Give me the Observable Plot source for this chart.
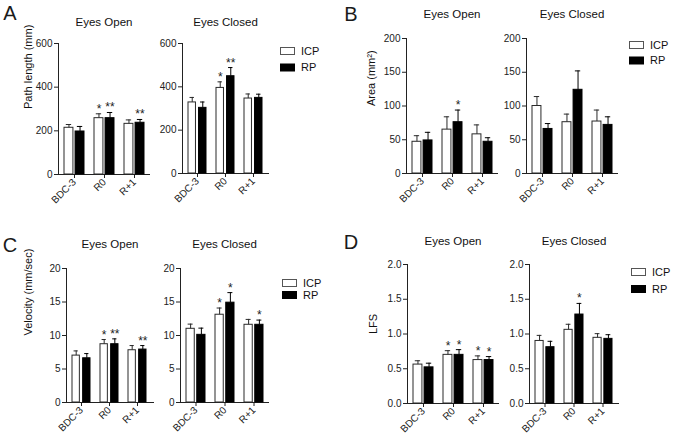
<!DOCTYPE html>
<html>
<head>
<meta charset="utf-8">
<script src="https://cdn.jsdelivr.net/npm/d3@7"></script>
<script src="https://cdn.jsdelivr.net/npm/@observablehq/plot@0.6"></script>
<style>
  html, body { margin: 0; padding: 0; background: #fff; }
  #chart { position: relative; width: 678px; height: 440px; overflow: hidden; font-family: "Liberation Sans", Arial, sans-serif; color: #1a1a1a; }
  .abs { position: absolute; }
  .letter { font-size: 20px; line-height: 1; transform: translate(-50%, -50%); }
</style>
</head>
<body>
<div id="chart"></div>
<script>
// ---------- data ----------
const groups = ["BDC-3", "R0", "R+1"];
const seriesNames = ["ICP", "RP"];

// A: Path length (mm)
const pathOpenICP = [214, 258, 232];
const pathOpenICPSem = [15, 20, 18];
const pathOpenRP = [197, 258, 237];
const pathOpenRPSem = [23, 26, 15];
const pathOpenICPStars = ["", "*", ""];
const pathOpenRPStars = ["", "**", "**"];
const pathClosedICP = [328, 395, 346];
const pathClosedICPSem = [23, 28, 21];
const pathClosedRP = [303, 449, 349];
const pathClosedRPSem = [27, 40, 17];
const pathClosedICPStars = ["", "*", ""];
const pathClosedRPStars = ["", "**", ""];

// B: Area (mm²)
const areaOpenICP = [47, 65, 58];
const areaOpenICPSem = [9, 19, 14];
const areaOpenRP = [49, 76, 47];
const areaOpenRPSem = [12, 18, 6];
const areaOpenICPStars = ["", "", ""];
const areaOpenRPStars = ["", "*", ""];
const areaClosedICP = [100, 76, 77];
const areaClosedICPSem = [14, 12, 17];
const areaClosedRP = [66, 124, 72];
const areaClosedRPSem = [8, 28, 12];
const areaClosedICPStars = ["", "", ""];
const areaClosedRPStars = ["", "", ""];

// C: Velocity (mm/sec)
const velOpenICP = [7.0, 8.7, 7.8];
const velOpenICPSem = [0.7, 0.7, 0.7];
const velOpenRP = [6.6, 8.7, 7.9];
const velOpenRPSem = [0.7, 0.8, 0.6];
const velOpenICPStars = ["", "*", ""];
const velOpenRPStars = ["", "**", "**"];
const velClosedICP = [11.0, 13.1, 11.6];
const velClosedICPSem = [0.7, 1.0, 0.8];
const velClosedRP = [10.1, 14.9, 11.6];
const velClosedRPSem = [1.0, 1.5, 0.7];
const velClosedICPStars = ["", "*", ""];
const velClosedRPStars = ["", "*", "*"];

// D: LFS
const lfsOpenICP = [0.56, 0.70, 0.625];
const lfsOpenICPSem = [0.055, 0.06, 0.06];
const lfsOpenRP = [0.52, 0.70, 0.625];
const lfsOpenRPSem = [0.06, 0.075, 0.05];
const lfsOpenICPStars = ["", "*", "*"];
const lfsOpenRPStars = ["", "*", "*"];
const lfsClosedICP = [0.90, 1.06, 0.945];
const lfsClosedICPSem = [0.08, 0.08, 0.06];
const lfsClosedRP = [0.81, 1.28, 0.93];
const lfsClosedRPSem = [0.085, 0.16, 0.06];
const lfsClosedICPStars = ["", "", ""];
const lfsClosedRPStars = ["", "*", ""];

// axis ticks / labels
const pathTicks = [0, 200, 400, 600];
const areaTicks = [0, 50, 100, 150, 200];
const velTicks = [0, 5, 10, 15, 20];
const lfsTicks = [0, 0.5, 1.0, 1.5, 2.0];
const panelLetters = ["A", "B", "C", "D"];
const conditionTitles = ["Eyes Open", "Eyes Closed"];
const yLabels = ["Path length (mm)", "Area (mm²)", "Velocity (mm/sec)", "LFS"];

// ---------- layout ----------
const chart = document.getElementById("chart");

function rows(means, sems, stars) {
  return groups.map((g, i) => ({group: g, mean: means[i], hi: means[i] + sems[i], star: stars[i]}));
}

function panel(cfg) {
  const W = cfg.ar - cfg.ax;
  const H = cfg.yb - cfg.yt;
  const ML = 50, MR = 6, MT = 32, MB = 46;
  const pi = 0.35, po = 0.18;
  const step = W / (groups.length - pi + 2 * po);
  const bw = step * (1 - pi);
  const gap = 2.5;
  const barW = (bw - gap) / 2;
  const off = (barW + gap) / 2;
  const icp = rows(cfg.icp, cfg.icpSem, cfg.icpStars);
  const rp = rows(cfg.rp, cfg.rpSem, cfg.rpStars);
  const marks = [
    Plot.barY(icp, {x: "group", y: "mean", fill: "white", stroke: "#2a2a2a", strokeWidth: 1, insetRight: barW + gap}),
    Plot.barY(rp, {x: "group", y: "mean", fill: "black", stroke: "black", strokeWidth: 1, insetLeft: barW + gap}),
    Plot.ruleX(icp, {x: "group", y1: "mean", y2: "hi", dx: -off, stroke: "#2a2a2a"}),
    Plot.ruleX(rp, {x: "group", y1: "mean", y2: "hi", dx: off, stroke: "black"}),
    Plot.tickY(icp, {x: "group", y: "hi", stroke: "#2a2a2a", insetLeft: barW / 2 - 2.5, insetRight: bw - barW / 2 - 2.5}),
    Plot.tickY(rp, {x: "group", y: "hi", stroke: "black", insetLeft: bw - barW / 2 - 2.5, insetRight: barW / 2 - 2.5}),
    Plot.text(icp, {x: "group", y: "hi", text: "star", dx: -off, dy: -1, lineAnchor: "bottom", fontSize: 12}),
    Plot.text(rp, {x: "group", y: "hi", text: "star", dx: off, dy: -1, lineAnchor: "bottom", fontSize: 12}),
    Plot.text([cfg.title], {frameAnchor: "top", lineAnchor: "middle", dy: cfg.titleY - cfg.yt, fontSize: 11.5, fill: "#111"})
  ];
  if (cfg.ylabel) {
    marks.push(Plot.text([cfg.ylabel], {frameAnchor: "left", rotate: -90, dx: cfg.ylabelX - cfg.ax, fontSize: 11, fill: "#111"}));
  }
  const svg = Plot.plot({
    width: ML + W + MR,
    height: MT + H + MB,
    marginLeft: ML, marginRight: MR, marginTop: MT, marginBottom: MB,
    style: {background: "transparent", overflow: "visible", fontFamily: "Liberation Sans, Arial, sans-serif", fontSize: "10px", color: "#222"},
    x: {domain: groups, paddingInner: pi, paddingOuter: po, label: null, tickRotate: -45, tickSize: 4, tickPadding: 2, line: true},
    y: {domain: cfg.domain, ticks: cfg.ticks, tickFormat: cfg.fmt, label: null, tickSize: 4, tickPadding: 2, line: true},
    marks
  });
  svg.style.position = "absolute";
  svg.style.left = (cfg.ax - ML) + "px";
  svg.style.top = (cfg.yt - MT) + "px";
  chart.appendChild(svg);
}

function legend(x, yICP, yRP) {
  const items = [[seriesNames[0], yICP, "white", "#555"], [seriesNames[1], yRP, "black", "black"]];
  const s = d3.create("svg")
    .attr("width", 60).attr("height", 40)
    .style("position", "absolute")
    .style("left", x + "px")
    .style("top", (yICP - 10) + "px")
    .style("overflow", "visible");
  for (const [name, y, fill, stroke] of items) {
    const yy = y - (yICP - 10);
    s.append("rect").attr("x", 0.5).attr("y", yy - 3.5).attr("width", 14).attr("height", 7)
      .attr("fill", fill).attr("stroke", stroke).attr("stroke-width", 1);
    s.append("text").attr("x", 21).attr("y", yy).attr("dy", "0.36em")
      .attr("font-family", "Liberation Sans, Arial, sans-serif").attr("font-size", 11).attr("fill", "#111")
      .text(name);
  }
  chart.appendChild(s.node());
}

function letter(txt, x, y) {
  const d = document.createElement("div");
  d.className = "abs letter";
  d.textContent = txt;
  d.style.left = x + "px";
  d.style.top = y + "px";
  chart.appendChild(d);
}

const f1 = d3.format(".1f");

// A
panel({ax: 58, ar: 149, yt: 43, yb: 174, domain: [0, 600], ticks: pathTicks, title: conditionTitles[0], titleY: 22,
  ylabel: yLabels[0], ylabelX: 28,
  icp: pathOpenICP, icpSem: pathOpenICPSem, icpStars: pathOpenICPStars, rp: pathOpenRP, rpSem: pathOpenRPSem, rpStars: pathOpenRPStars});
panel({ax: 182, ar: 268, yt: 43, yb: 173, domain: [0, 600], ticks: pathTicks, title: conditionTitles[1], titleY: 22,
  icp: pathClosedICP, icpSem: pathClosedICPSem, icpStars: pathClosedICPStars, rp: pathClosedRP, rpSem: pathClosedRPSem, rpStars: pathClosedRPStars});
// B
panel({ax: 406, ar: 497, yt: 38, yb: 173, domain: [0, 200], ticks: areaTicks, title: conditionTitles[0], titleY: 14,
  ylabel: yLabels[1], ylabelX: 371,
  icp: areaOpenICP, icpSem: areaOpenICPSem, icpStars: areaOpenICPStars, rp: areaOpenRP, rpSem: areaOpenRPSem, rpStars: areaOpenRPStars});
panel({ax: 526, ar: 617, yt: 38, yb: 173, domain: [0, 200], ticks: areaTicks, title: conditionTitles[1], titleY: 14,
  icp: areaClosedICP, icpSem: areaClosedICPSem, icpStars: areaClosedICPStars, rp: areaClosedRP, rpSem: areaClosedRPSem, rpStars: areaClosedRPStars});
// C
panel({ax: 66, ar: 153, yt: 268, yb: 402, domain: [0, 20], ticks: velTicks, title: conditionTitles[0], titleY: 244,
  ylabel: yLabels[2], ylabelX: 28,
  icp: velOpenICP, icpSem: velOpenICPSem, icpStars: velOpenICPStars, rp: velOpenRP, rpSem: velOpenRPSem, rpStars: velOpenRPStars});
panel({ax: 180, ar: 268, yt: 268, yb: 402, domain: [0, 20], ticks: velTicks, title: conditionTitles[1], titleY: 244,
  icp: velClosedICP, icpSem: velClosedICPSem, icpStars: velClosedICPStars, rp: velClosedRP, rpSem: velClosedRPSem, rpStars: velClosedRPStars});
// D
panel({ax: 407, ar: 498, yt: 264, yb: 403, domain: [0, 2], ticks: lfsTicks, fmt: f1, title: conditionTitles[0], titleY: 241,
  ylabel: yLabels[3], ylabelX: 373,
  icp: lfsOpenICP, icpSem: lfsOpenICPSem, icpStars: lfsOpenICPStars, rp: lfsOpenRP, rpSem: lfsOpenRPSem, rpStars: lfsOpenRPStars});
panel({ax: 529, ar: 618, yt: 264, yb: 403, domain: [0, 2], ticks: lfsTicks, fmt: f1, title: conditionTitles[1], titleY: 241,
  icp: lfsClosedICP, icpSem: lfsClosedICPSem, icpStars: lfsClosedICPStars, rp: lfsClosedRP, rpSem: lfsClosedRPSem, rpStars: lfsClosedRPStars});

legend(280, 50.5, 67);
legend(629, 45, 60.5);
legend(282, 283, 295);
legend(631, 272, 289);

letter(panelLetters[0], 10, 13);
letter(panelLetters[1], 351, 14);
letter(panelLetters[2], 10, 245);
letter(panelLetters[3], 351, 242);
</script>
</body>
</html>
